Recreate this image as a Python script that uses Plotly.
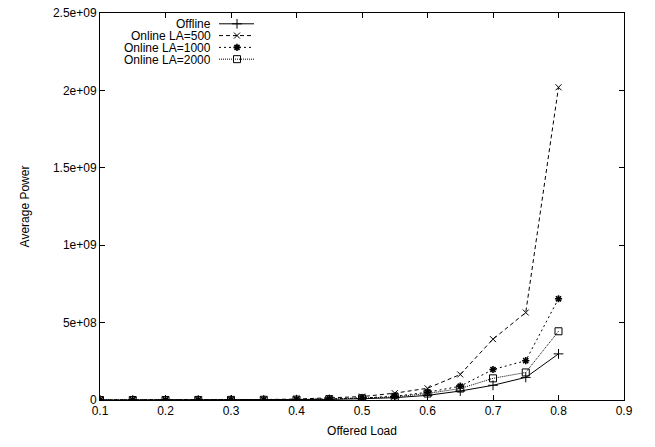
import plotly.graph_objects as go

# ---- data ----
offered_load = [0.1, 0.15, 0.2, 0.25, 0.3, 0.35, 0.4, 0.45, 0.5, 0.55, 0.6, 0.65, 0.7, 0.75, 0.8]
offline = [2e4, 5e4, 1e5, 2e5, 5e5, 1e6, 2e6, 4e6, 8e6, 1.5e7, 3.0e7, 5.8e7, 9.5e7, 1.46e8, 2.98e8]
online_la500 = [4e4, 1e5, 3e5, 7e5, 1.5e6, 3e6, 6e6, 1.2e7, 2.2e7, 4.4e7, 7.6e7, 1.65e8, 3.93e8, 5.65e8, 2.02e9]
online_la1000 = [3e4, 8e4, 2e5, 4e5, 9e5, 1.8e6, 3.5e6, 7e6, 1.3e7, 2.4e7, 5.0e7, 8.9e7, 1.97e8, 2.54e8, 6.54e8]
online_la2000 = [2.5e4, 6e4, 1.5e5, 3e5, 7e5, 1.4e6, 2.8e6, 5.5e6, 1.1e7, 2.0e7, 4.2e7, 7.4e7, 1.40e8, 1.78e8, 4.44e8]

series_names = ["Offline", "Online LA=500", "Online LA=1000", "Online LA=2000"]
series_values = [offline, online_la500, online_la1000, online_la2000]

x_ticks = [0.1, 0.2, 0.3, 0.4, 0.5, 0.6, 0.7, 0.8, 0.9]
x_tick_labels = ["0.1", "0.2", "0.3", "0.4", "0.5", "0.6", "0.7", "0.8", "0.9"]
y_ticks = [0, 5e8, 1e9, 1.5e9, 2e9, 2.5e9]
y_tick_labels = ["0", "5e+08", "1e+09", "1.5e+09", "2e+09", "2.5e+09"]

# ---- styles ----
dashes = ["solid", "4px,3px", "2px,3px", "1px,1px"]
symbols = ["cross-thin-open", "x-thin-open", "asterisk-open", "square-open"]
msizes = [7, 6, 6, 7]
mwidths = [1, 1, 1.6, 1]

FONT = "Liberation Sans, Arial, sans-serif"

fig = go.Figure()
for name, vals, d, s, ms, mw in zip(series_names, series_values, dashes, symbols, msizes, mwidths):
    fig.add_trace(go.Scatter(
        x=offered_load, y=vals, mode="lines+markers", name=name,
        line=dict(color="black", width=1, dash=d),
        marker=dict(symbol=s, size=ms, color="black", line=dict(color="black", width=mw)),
        showlegend=False,
    ))

# ---- manual gnuplot-style legend (text left, sample right) on a pixel overlay axis ----
leg_y = [17, 29, 41, 53]
for name, d, s, ms, mw, yy in zip(series_names, dashes, symbols, msizes, mwidths, leg_y):
    fig.add_trace(go.Scatter(
        x=[219, 254], y=[yy, yy], mode="lines", xaxis="x2", yaxis="y2",
        line=dict(color="black", width=1, dash=d), showlegend=False, hoverinfo="skip",
    ))
    fig.add_trace(go.Scatter(
        x=[237], y=[yy], mode="markers", xaxis="x2", yaxis="y2",
        marker=dict(symbol=s, size=ms, color="black", line=dict(color="black", width=mw)),
        showlegend=False, hoverinfo="skip",
    ))
    fig.add_annotation(
        x=212, y=yy, xref="x2", yref="y2", text=name, showarrow=False,
        xanchor="right", yanchor="middle", height=11, borderpad=0,
        font=dict(family=FONT, size=12, color="black"),
    )

axis_common = dict(
    showline=True, linecolor="black", linewidth=1, mirror="ticks",
    ticks="inside", ticklen=5, tickcolor="black", tickwidth=1,
    showgrid=False, zeroline=False, ticklabeloverflow="allow",
    tickfont=dict(family=FONT, size=12, color="black"),
)

fig.update_layout(
    width=655, height=447,
    margin=dict(l=100, r=31, t=6, b=47),
    paper_bgcolor="white", plot_bgcolor="white",
    font=dict(family=FONT, size=12, color="black"),
    xaxis=dict(range=[0.1, 0.9], tickvals=x_ticks, ticktext=x_tick_labels,
               title=dict(text="Offered Load", standoff=9, font=dict(family=FONT, size=12)),
               **axis_common),
    yaxis=dict(range=[0, 2.5e9], tickvals=y_ticks, ticktext=y_tick_labels,
               title=dict(text="Average Power", standoff=20, font=dict(family=FONT, size=12)),
               **axis_common),
    xaxis2=dict(overlaying="x", range=[100, 624], visible=False, fixedrange=True),
    yaxis2=dict(overlaying="y", range=[400, 6], visible=False, fixedrange=True),
)

fig.write_html("out.html")
